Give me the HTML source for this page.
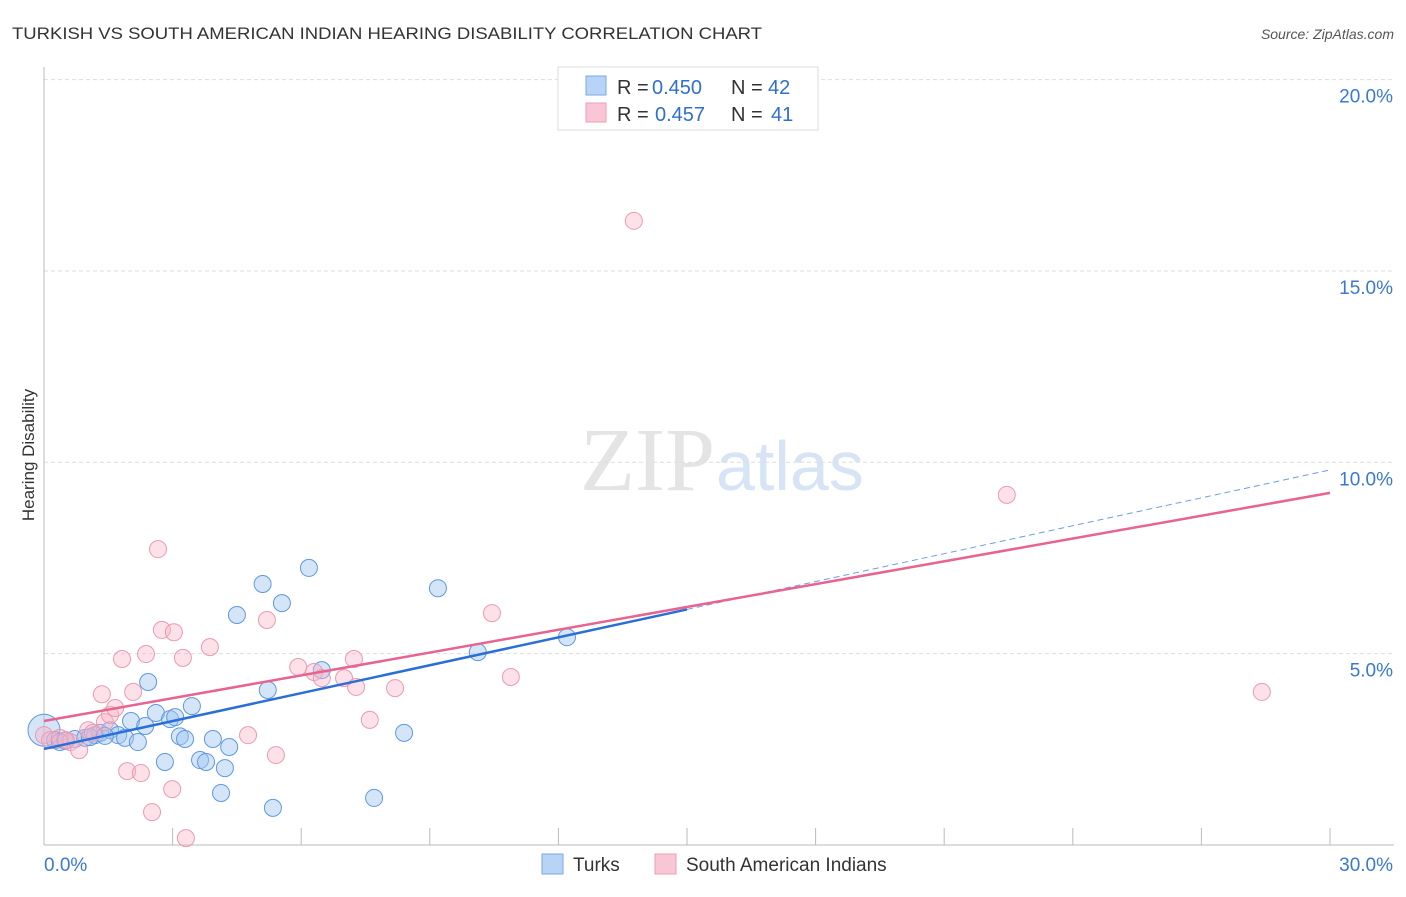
<!DOCTYPE html>
<html><head><meta charset="utf-8"><style>
body{margin:0;background:#fff;font-family:"Liberation Sans",sans-serif;}
</style></head><body>
<svg id="chart" width="1406" height="892" xmlns="http://www.w3.org/2000/svg" font-family="Liberation Sans, sans-serif">
<text x="12" y="39" font-size="17" fill="#333" textLength="750" lengthAdjust="spacingAndGlyphs">TURKISH VS SOUTH AMERICAN INDIAN HEARING DISABILITY CORRELATION CHART</text>
<text x="1394" y="39" font-size="14" fill="#555" text-anchor="end" font-style="italic">Source: ZipAtlas.com</text>
<text x="715" y="490" font-size="90" fill="#e4e4e4" text-anchor="end" font-family="Liberation Serif, serif">ZIP</text>
<text x="716" y="490" font-size="70" fill="#d6e4f5">atlas</text>
<text transform="translate(34,455) rotate(-90)" font-size="17" fill="#333" text-anchor="middle">Hearing Disability</text>
<g id="grid"></g><g id="axes"></g><g id="points"></g><g id="lines"></g>
<g>
<rect x="558" y="67" width="260" height="63" fill="#fff" stroke="#ddd"/>
<rect x="586" y="76" width="20" height="19" fill="#b7d3f5" stroke="#7aa7e6"/>
<rect x="586" y="103" width="20" height="19" fill="#f9c6d6" stroke="#ee9db5"/>
<g font-size="20" fill="#333">
<text x="617" y="94">R =</text><text x="652" y="94" fill="#2e6fd0">0.450</text><text x="731" y="94">N =</text><text x="768" y="94" fill="#2e6fd0">42</text>
<text x="617" y="121">R =</text><text x="655" y="121" fill="#2e6fd0">0.457</text><text x="731" y="121">N =</text><text x="771" y="121" fill="#2e6fd0">41</text>
</g>
</g>
<g>
<rect x="542" y="854" width="21" height="20" fill="#b7d3f5" stroke="#7aa7e6"/>
<text x="573" y="871" font-size="19" fill="#333">Turks</text>
<rect x="655" y="854" width="21" height="20" fill="#f9c6d6" stroke="#ee9db5"/>
<text x="686" y="871" font-size="19" fill="#333">South American Indians</text>
</g>
</svg>
<script>
const yTicks=[5,10,15,20];
const yTickLabels=["5.0%","10.0%","15.0%","20.0%"];
const xTickLabels=["0.0%","30.0%"];
const turksX=[0,0.26,0.49,0.72,0.96,1.19,1.31,1.54,1.73,1.89,2.03,2.19,2.36,2.43,2.61,2.82,2.94,3.06,3.17,3.29,3.45,3.64,3.78,3.94,4.13,4.22,4.32,4.5,5.1,5.22,5.34,5.55,6.18,6.48,7.7,8.4,9.19,10.12,12.2,0.37,1.07,1.42];
const turksY=[3.0,2.74,2.72,2.77,2.8,2.87,2.93,3.0,2.87,2.8,3.24,2.69,3.11,4.26,3.45,2.17,3.29,3.34,2.84,2.77,3.63,2.22,2.17,2.77,1.36,2.01,2.56,6.01,6.82,4.05,0.97,6.32,7.24,4.57,1.23,2.93,6.71,5.04,5.43,2.69,2.82,2.85];
const saiX=[0,0.14,0.37,0.61,0.82,1.03,1.14,1.35,1.42,1.54,1.66,1.82,1.94,2.08,2.26,2.38,2.52,2.66,2.75,2.99,3.03,3.24,3.31,3.87,4.76,5.2,5.41,5.93,6.3,6.48,7.0,7.23,7.28,7.6,8.19,10.45,10.89,13.76,22.46,28.41,0.51];
const saiY=[2.87,2.74,2.8,2.69,2.48,3.0,2.93,3.94,3.21,3.4,3.58,4.86,1.93,4.0,1.88,4.99,0.86,7.73,5.62,1.46,5.56,4.89,0.18,5.17,2.87,5.88,2.35,4.65,4.52,4.36,4.36,4.86,4.13,3.27,4.1,6.06,4.39,16.31,9.15,4.0,2.74];
const turksFit=[2.51,9.8];
const saiFit=[3.24,9.2];
const NS="http://www.w3.org/2000/svg";
const X=v=>44+v*(1286/30), Y=v=>845-v*38.27;
function mk(t,a,p){const e=document.createElementNS(NS,t);for(const k in a)e.setAttribute(k,a[k]);document.getElementById(p).appendChild(e);return e;}
yTicks.forEach((t,i)=>{
 const g=mk('line',{x1:44,x2:1394,y1:Y(t),y2:Y(t),stroke:'#ddd','stroke-dasharray':'4,3'},'grid');
 
 
 const l=mk('text',{x:1393,y:Y(t)+23,'font-size':19,fill:'#3a78d4','text-anchor':'end'},'axes');l.textContent=yTickLabels[i];
 
 
});
mk('line',{x1:44,x2:44,y1:67,y2:845,stroke:'#bbb'},'axes');
mk('line',{x1:44,x2:1394,y1:845,y2:845,stroke:'#bbb'},'axes');
for(let i=1;i<=10;i++){const t=mk('line',{x1:X(i*3),x2:X(i*3),y1:828,y2:845,stroke:'#bbb'},'axes');
 
 }
[[44,'start',xTickLabels[0]],[1393,'end',xTickLabels[1]]].forEach(([x,a,s])=>{const l=mk('text',{x:x,y:871,'font-size':19,fill:'#3a78d4','text-anchor':a},'axes');l.textContent=s;
 
 });
turksX.forEach((v,i)=>{const c=mk('circle',{cx:X(v),cy:Y(turksY[i]),r:i==0?16:8.5,fill:'rgba(160,198,240,0.45)',stroke:'#5f98e0','stroke-width':1},'points');
 
 });
saiX.forEach((v,i)=>{const c=mk('circle',{cx:X(v),cy:Y(saiY[i]),r:8.5,fill:'rgba(247,180,200,0.4)',stroke:'#eb9ab2','stroke-width':1},'points');
 
 });
const bAt=x=>turksFit[0]+(turksFit[1]-turksFit[0])*x/30;
const l1=mk('line',{x1:X(0),y1:Y(bAt(0)),x2:X(15),y2:Y(bAt(15)),stroke:'#2a6fd6','stroke-width':2.5},'lines');


const l2=mk('line',{x1:X(15),y1:Y(bAt(15)),x2:X(30),y2:Y(bAt(30)),stroke:'#6a9ee6','stroke-width':1,'stroke-dasharray':'6,4'},'lines');


const l3=mk('line',{x1:X(0),y1:Y(saiFit[0]),x2:X(30),y2:Y(saiFit[1]),stroke:'#e8638f','stroke-width':2.5},'lines');


</script>
</body></html>
